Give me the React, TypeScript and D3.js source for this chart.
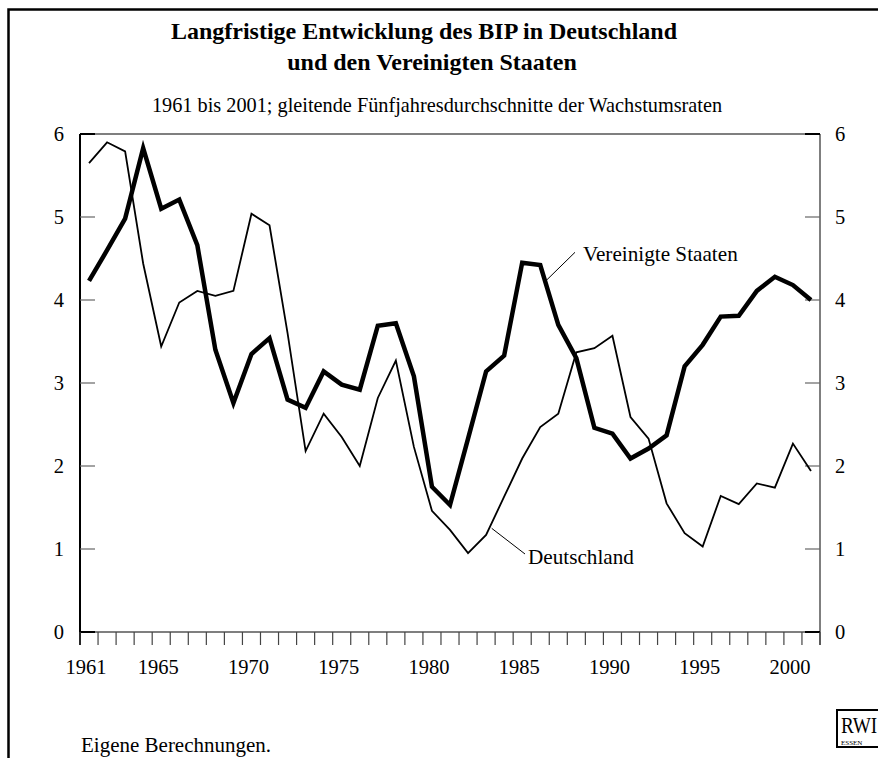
import React from 'react';
import * as d3 from 'd3';

// Gleitende Fünfjahresdurchschnitte der BIP-Wachstumsraten, 1961 bis 2001
const years = d3.range(1961, 2002);
const usa = [
  4.23, 4.6, 4.98, 5.83, 5.1, 5.21, 4.66, 3.4, 2.76, 3.35,
  3.54, 2.8, 2.7, 3.14, 2.98, 2.92, 3.69, 3.72, 3.08, 1.75,
  1.53, 2.33, 3.14, 3.33, 4.45, 4.42, 3.7, 3.3, 2.46, 2.39,
  2.09, 2.21, 2.37, 3.2, 3.46, 3.8, 3.81, 4.11, 4.28, 4.18,
  4.0,
];
const germany = [
  5.65, 5.9, 5.79, 4.44, 3.44, 3.97, 4.11, 4.05, 4.11, 5.04,
  4.9, 3.6, 2.18, 2.63, 2.35, 2.0, 2.82, 3.27, 2.23, 1.46,
  1.23, 0.95, 1.17, 1.63, 2.09, 2.47, 2.63, 3.37, 3.42, 3.57,
  2.59, 2.33, 1.55, 1.19, 1.03, 1.64, 1.54, 1.79, 1.74, 2.27,
  1.94,
];
const yearLabels = [1961, 1965, 1970, 1975, 1980, 1985, 1990, 1995, 2000];
const valueTicks = [0, 1, 2, 3, 4, 5, 6];

const W = 878;
const H = 758;
const left = 80;
const right = 820;
const top = 134;
const bottom = 632;
const font = '"Liberation Serif", "Times New Roman", serif';

export default function App() {
  const x = d3.scaleBand<number>().domain(years).range([left, right]);
  const bw = x.bandwidth();
  const cx = (yr: number) => (x(yr) as number) + bw / 2;
  const y = d3.scaleLinear().domain([0, 6]).range([bottom, top]);

  const line = d3
    .line<number>()
    .x((_, i) => cx(years[i]))
    .y((d) => y(d))
    .curve(d3.curveLinear);

  const boundaries = years.map((yr) => x(yr) as number).concat([right]);
  const edge = (v: number) => v === 0 || v === 6;

  return (
    <svg
      width={W}
      height={H}
      viewBox={`0 0 ${W} ${H}`}
      style={{ position: 'absolute', left: 0, top: 0, background: '#fff' }}
      fontFamily={font}
    >
      {/* äußerer Rahmen */}
      <rect x={8.5} y={9.5} width={W + 20} height={H + 20} fill="none" stroke="#000" strokeWidth={2.5} />

      <text x={424} y={39} textAnchor="middle" fontSize={24} fontWeight="bold">
        Langfristige Entwicklung des BIP in Deutschland
      </text>
      <text x={432} y={70} textAnchor="middle" fontSize={24} fontWeight="bold">
        und den Vereinigten Staaten
      </text>
      <text x={437} y={112} textAnchor="middle" fontSize={20.3}>
        1961 bis 2001; gleitende Fünfjahresdurchschnitte der Wachstumsraten
      </text>

      {/* Rahmen des Diagramms */}
      <line x1={left} x2={right} y1={top} y2={top} stroke="#555" strokeWidth={1.5} />
      <line x1={right} x2={right} y1={top} y2={bottom + 13} stroke="#555" strokeWidth={1.5} />
      <line x1={left} x2={right} y1={bottom} y2={bottom} stroke="#555" strokeWidth={1.5} />
      <line x1={left} x2={left} y1={top} y2={bottom + 13} stroke="#000" strokeWidth={2} />

      {/* y-Achsen */}
      {valueTicks.map((v) => (
        <g key={v}>
          <line x1={left} x2={left + 15} y1={y(v)} y2={y(v)} stroke={edge(v) ? '#000' : '#666'} strokeWidth={edge(v) ? 2 : 1.2} />
          <line x1={right - 15} x2={right} y1={y(v)} y2={y(v)} stroke={edge(v) ? '#000' : '#666'} strokeWidth={edge(v) ? 2 : 1.2} />
          <text x={left - 16} y={y(v)} dy="0.35em" textAnchor="end" fontSize={20.5}>
            {v}
          </text>
          <text x={right + 15} y={y(v)} dy="0.35em" textAnchor="start" fontSize={20.5}>
            {v}
          </text>
        </g>
      ))}

      {/* x-Achse */}
      {boundaries.map((b, i) => (
        <line key={i} x1={b} x2={b} y1={bottom} y2={bottom + 13} stroke="#444" strokeWidth={1.2} />
      ))}
      {yearLabels.map((yr) => (
        <text key={yr} x={cx(yr) - 3} y={674} textAnchor="middle" fontSize={20.5}>
          {yr}
        </text>
      ))}

      {/* Linien */}
      <path d={line(germany) ?? ''} fill="none" stroke="#000" strokeWidth={1.8} strokeLinejoin="miter" />
      <path d={line(usa) ?? ''} fill="none" stroke="#000" strokeWidth={4.5} strokeLinejoin="miter" />

      {/* Beschriftungen */}
      <line x1={546.7} y1={280} x2={575} y2={252.3} stroke="#000" strokeWidth={1} />
      <text x={583} y={261} fontSize={21.2}>
        Vereinigte Staaten
      </text>
      <line x1={491.7} y1={528.3} x2={525} y2={554} stroke="#000" strokeWidth={1} />
      <text x={528} y={564} fontSize={21.2}>
        Deutschland
      </text>

      <text x={81} y={752} fontSize={21}>
        Eigene Berechnungen.
      </text>

      {/* Logo */}
      <rect x={837} y={710} width={60} height={37} fill="#fff" stroke="#000" strokeWidth={2} />
      <text x={841} y={733} fontSize={24} transform="translate(841 733) scale(0.8 1) translate(-841 -733)">
        RWI
      </text>
      <text x={841} y={745} fontSize={7}>
        ESSEN
      </text>
    </svg>
  );
}
